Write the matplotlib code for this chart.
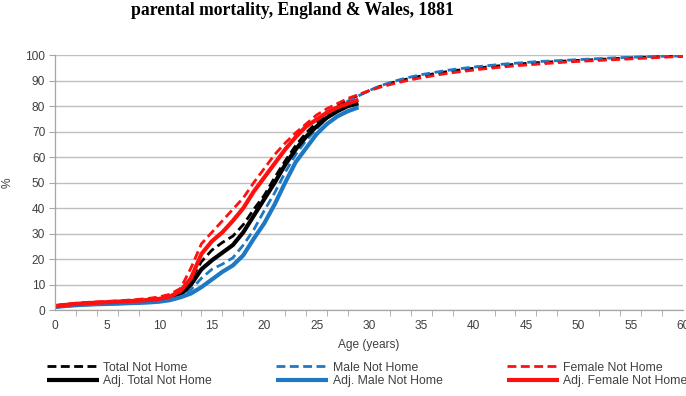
import matplotlib
matplotlib.use("Agg")
import matplotlib.pyplot as plt
from matplotlib.ticker import MultipleLocator

ages_full = list(range(0, 61))
ages_adj = list(range(0, 30))

total_not_home = [1.5, 2.0, 2.3, 2.6, 2.8, 3.0, 3.2, 3.4, 3.6, 3.9, 4.3, 5.2, 7.0, 12.0, 19.0, 23.5, 26.5, 29.0, 33.5, 39.5,
                  45.0, 52.0, 58.5, 64.5, 69.5, 73.5, 77.0, 80.0, 82.5, 84.2, 86.0, 87.6, 88.9, 90.0, 90.9, 91.8, 92.5, 93.2, 93.8, 94.3,
                  94.8, 95.2, 95.6, 96.0, 96.4, 96.7, 97.0, 97.2, 97.5, 97.7, 97.9, 98.1, 98.3, 98.5, 98.7, 98.9, 99.1, 99.2, 99.4, 99.5, 99.6]
male_not_home = [1.3, 1.7, 2.0, 2.2, 2.4, 2.6, 2.7, 2.9, 3.0, 3.2, 3.5, 4.2, 5.5, 8.0, 12.5, 16.0, 18.0, 20.5, 25.5, 31.5,
                 39.0, 46.0, 54.0, 61.0, 66.5, 71.0, 75.5, 79.0, 82.0, 84.0, 86.0, 87.8, 89.2, 90.4, 91.4, 92.3, 93.0, 93.7, 94.3, 94.8,
                 95.3, 95.7, 96.1, 96.5, 96.8, 97.1, 97.4, 97.6, 97.8, 98.0, 98.2, 98.4, 98.6, 98.8, 99.0, 99.1, 99.3, 99.4, 99.5, 99.6, 99.7]
female_not_home = [1.8, 2.3, 2.7, 3.0, 3.2, 3.4, 3.6, 3.9, 4.2, 4.6, 5.2, 6.2, 8.5, 16.5, 26.0, 30.5, 35.0, 39.5, 44.0, 50.0,
                   55.5, 61.0, 65.5, 69.5, 73.0, 76.5, 79.0, 81.0, 83.0, 84.5, 86.0, 87.3, 88.4, 89.4, 90.3, 91.1, 91.8, 92.5, 93.1, 93.6,
                   94.1, 94.6, 95.0, 95.4, 95.8, 96.1, 96.4, 96.7, 97.0, 97.3, 97.5, 97.7, 97.9, 98.1, 98.3, 98.5, 98.7, 98.9, 99.1, 99.3, 99.5]
adj_total = [1.4, 1.8, 2.1, 2.4, 2.6, 2.8, 2.9, 3.1, 3.3, 3.5, 3.9, 4.6, 6.0, 10.0, 16.0, 19.5, 22.5, 25.5, 30.5, 37.0,
             43.5, 50.0, 57.0, 63.0, 68.0, 72.0, 75.5, 78.0, 80.0, 81.0]
adj_male = [1.2, 1.6, 1.9, 2.1, 2.3, 2.4, 2.5, 2.7, 2.8, 3.0, 3.3, 3.9, 5.0, 6.5, 9.0, 12.0, 15.0, 17.5, 21.5, 28.0,
            34.0, 41.5, 50.0, 58.0, 63.5, 69.0, 73.0, 76.0, 78.0, 79.5]
adj_female = [1.5, 2.0, 2.4, 2.7, 2.9, 3.1, 3.3, 3.5, 3.7, 4.0, 4.4, 5.3, 7.5, 12.5, 22.0, 27.0, 30.5, 35.0, 40.0, 46.5,
              52.0, 57.5, 63.0, 67.8, 72.0, 74.7, 77.5, 79.5, 81.0, 82.5]

BLACK = "#000000"
BLUE = "#1F78C4"
RED = "#FF1010"
TXT = "#404040"

plt.rcParams['font.family'] = ['Liberation Sans', 'DejaVu Sans']

fig = plt.figure(figsize=(6.86, 3.96), dpi=100)
ax = fig.add_axes([0.080, 0.217, 0.9156, 0.644])

dash = (3.2, 1.6)
l1, = ax.plot(ages_full, total_not_home, color=BLACK, lw=2.0, dashes=dash, label="Total Not Home")
l2, = ax.plot(ages_full, male_not_home, color=BLUE, lw=2.0, dashes=dash, label="Male Not Home")
l3, = ax.plot(ages_full, female_not_home, color=RED, lw=2.0, dashes=dash, label="Female Not Home")
l4, = ax.plot(ages_adj, adj_total, color=BLACK, lw=3.0, label="Adj. Total Not Home", solid_capstyle='butt')
l5, = ax.plot(ages_adj, adj_male, color=BLUE, lw=3.0, label="Adj. Male Not Home", solid_capstyle='butt')
l6, = ax.plot(ages_adj, adj_female, color=RED, lw=3.0, label="Adj. Female Not Home", solid_capstyle='butt')

ax.set_xlim(0, 60)
ax.set_ylim(0, 100)
ax.yaxis.set_major_locator(MultipleLocator(10))
ax.xaxis.set_major_locator(MultipleLocator(5))
ax.xaxis.set_minor_locator(MultipleLocator(2))
ax.grid(axis='y', color="#BEBEBE", lw=1.0)
ax.set_axisbelow(True)
for s in ['top', 'right']:
    ax.spines[s].set_visible(False)
for s in ['left', 'bottom']:
    ax.spines[s].set_color("#A6A6A6")
    ax.spines[s].set_linewidth(0.9)
ax.tick_params(axis='x', which='major', length=0, labelsize=8.6, labelcolor=TXT, pad=7)
ax.tick_params(axis='x', which='minor', length=4, color="#A6A6A6", direction='out')
ax.tick_params(axis='y', which='major', length=4, color="#A6A6A6", labelsize=8.6, labelcolor=TXT, pad=3)

ax.set_xlabel("Age (years)", fontsize=8.6, color=TXT, labelpad=5)
ax.set_ylabel("%", fontsize=8.6, color=TXT)
ax.yaxis.set_label_coords(-0.066, 0.5)

handles = [l1, l4, l2, l5, l3, l6]
leg = fig.legend(handles=handles, labels=[h.get_label() for h in handles], ncol=3,
                 loc='upper left', bbox_to_anchor=(0.060, 0.102), frameon=False,
                 fontsize=8.8, handlelength=4.25, handletextpad=0.35, columnspacing=5.25,
                 labelspacing=0.12, borderpad=0, labelcolor=TXT)

fig.text(0.426, 1 - 15 / 396, "parental mortality, England & Wales, 1881", ha='center', va='baseline',
         fontsize=12.7, fontweight='bold', family=['Liberation Serif', 'DejaVu Serif'], color="#000000")

fig.savefig("out.png", dpi=100)
